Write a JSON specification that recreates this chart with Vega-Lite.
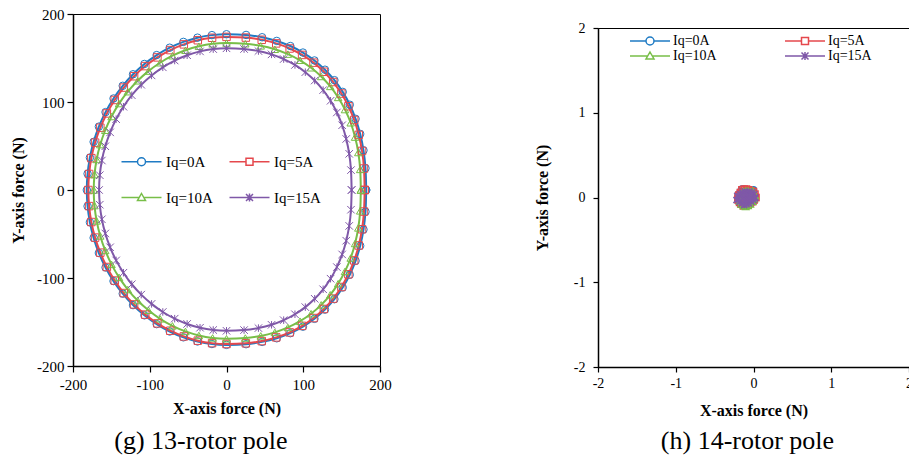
{
"$schema": "https://vega.github.io/schema/vega-lite/v6.json",
"padding": {"left": 10, "top": 6, "right": 0, "bottom": 0},
"datasets": {
"g": [
{"s":"Iq=0A","i":0,"x":182,"y":0},{"s":"Iq=0A","i":1,"x":181.1,"y":24.8},{"s":"Iq=0A","i":2,"x":178.5,"y":45.1},{"s":"Iq=0A","i":3,"x":174.2,"y":63.7},{"s":"Iq=0A","i":4,"x":168.2,"y":80.9},{"s":"Iq=0A","i":5,"x":160.6,"y":96.9},{"s":"Iq=0A","i":6,"x":151.4,"y":111.5},{"s":"Iq=0A","i":7,"x":140.6,"y":124.8},{"s":"Iq=0A","i":8,"x":128.3,"y":136.7},{"s":"Iq=0A","i":9,"x":114.6,"y":147.2},{"s":"Iq=0A","i":10,"x":99.6,"y":156.2},{"s":"Iq=0A","i":11,"x":83.2,"y":163.6},{"s":"Iq=0A","i":12,"x":65.5,"y":169.4},{"s":"Iq=0A","i":13,"x":46.4,"y":173.6},{"s":"Iq=0A","i":14,"x":25.5,"y":176.2},{"s":"Iq=0A","i":15,"x":0,"y":177},{"s":"Iq=0A","i":16,"x":-19,"y":176},{"s":"Iq=0A","i":17,"x":-37.8,"y":173.1},{"s":"Iq=0A","i":18,"x":-56.2,"y":168.3},{"s":"Iq=0A","i":19,"x":-74,"y":161.7},{"s":"Iq=0A","i":20,"x":-91,"y":153.3},{"s":"Iq=0A","i":21,"x":-107,"y":143.2},{"s":"Iq=0A","i":22,"x":-121.8,"y":131.5},{"s":"Iq=0A","i":23,"x":-135.2,"y":118.4},{"s":"Iq=0A","i":24,"x":-147.2,"y":104},{"s":"Iq=0A","i":25,"x":-157.6,"y":88.5},{"s":"Iq=0A","i":26,"x":-166.3,"y":72},{"s":"Iq=0A","i":27,"x":-173.1,"y":54.7},{"s":"Iq=0A","i":28,"x":-178,"y":36.8},{"s":"Iq=0A","i":29,"x":-181,"y":18.5},{"s":"Iq=0A","i":30,"x":-182,"y":0},{"s":"Iq=0A","i":31,"x":-181,"y":-18.4},{"s":"Iq=0A","i":32,"x":-178,"y":-36.6},{"s":"Iq=0A","i":33,"x":-173.1,"y":-54.4},{"s":"Iq=0A","i":34,"x":-166.3,"y":-71.6},{"s":"Iq=0A","i":35,"x":-157.6,"y":-88},{"s":"Iq=0A","i":36,"x":-147.2,"y":-103.5},{"s":"Iq=0A","i":37,"x":-135.2,"y":-117.8},{"s":"Iq=0A","i":38,"x":-121.8,"y":-130.8},{"s":"Iq=0A","i":39,"x":-107,"y":-142.4},{"s":"Iq=0A","i":40,"x":-91,"y":-152.4},{"s":"Iq=0A","i":41,"x":-74,"y":-160.8},{"s":"Iq=0A","i":42,"x":-56.2,"y":-167.4},{"s":"Iq=0A","i":43,"x":-37.8,"y":-172.1},{"s":"Iq=0A","i":44,"x":-19,"y":-175},{"s":"Iq=0A","i":45,"x":0,"y":-176},{"s":"Iq=0A","i":46,"x":25.5,"y":-175.2},{"s":"Iq=0A","i":47,"x":46.4,"y":-172.6},{"s":"Iq=0A","i":48,"x":65.5,"y":-168.5},{"s":"Iq=0A","i":49,"x":83.2,"y":-162.7},{"s":"Iq=0A","i":50,"x":99.6,"y":-155.3},{"s":"Iq=0A","i":51,"x":114.6,"y":-146.4},{"s":"Iq=0A","i":52,"x":128.3,"y":-135.9},{"s":"Iq=0A","i":53,"x":140.6,"y":-124.1},{"s":"Iq=0A","i":54,"x":151.4,"y":-110.8},{"s":"Iq=0A","i":55,"x":160.6,"y":-96.3},{"s":"Iq=0A","i":56,"x":168.2,"y":-80.5},{"s":"Iq=0A","i":57,"x":174.2,"y":-63.4},{"s":"Iq=0A","i":58,"x":178.5,"y":-44.9},{"s":"Iq=0A","i":59,"x":181.1,"y":-24.7},{"s":"Iq=0A","i":60,"x":182,"y":0},
{"s":"Iq=5A","i":0,"x":180,"y":0},{"s":"Iq=5A","i":1,"x":179.1,"y":24.4},{"s":"Iq=5A","i":2,"x":176.6,"y":44.4},{"s":"Iq=5A","i":3,"x":172.3,"y":62.6},{"s":"Iq=5A","i":4,"x":166.4,"y":79.6},{"s":"Iq=5A","i":5,"x":158.8,"y":95.2},{"s":"Iq=5A","i":6,"x":149.7,"y":109.6},{"s":"Iq=5A","i":7,"x":139,"y":122.7},{"s":"Iq=5A","i":8,"x":126.9,"y":134.4},{"s":"Iq=5A","i":9,"x":113.4,"y":144.7},{"s":"Iq=5A","i":10,"x":98.5,"y":153.5},{"s":"Iq=5A","i":11,"x":82.3,"y":160.8},{"s":"Iq=5A","i":12,"x":64.8,"y":166.6},{"s":"Iq=5A","i":13,"x":45.9,"y":170.7},{"s":"Iq=5A","i":14,"x":25.2,"y":173.2},{"s":"Iq=5A","i":15,"x":0,"y":174},{"s":"Iq=5A","i":16,"x":-18.8,"y":173},{"s":"Iq=5A","i":17,"x":-37.4,"y":170.2},{"s":"Iq=5A","i":18,"x":-55.6,"y":165.5},{"s":"Iq=5A","i":19,"x":-73.2,"y":159},{"s":"Iq=5A","i":20,"x":-90,"y":150.7},{"s":"Iq=5A","i":21,"x":-105.8,"y":140.8},{"s":"Iq=5A","i":22,"x":-120.4,"y":129.3},{"s":"Iq=5A","i":23,"x":-133.8,"y":116.4},{"s":"Iq=5A","i":24,"x":-145.6,"y":102.3},{"s":"Iq=5A","i":25,"x":-155.9,"y":87},{"s":"Iq=5A","i":26,"x":-164.4,"y":70.8},{"s":"Iq=5A","i":27,"x":-171.2,"y":53.8},{"s":"Iq=5A","i":28,"x":-176.1,"y":36.2},{"s":"Iq=5A","i":29,"x":-179,"y":18.2},{"s":"Iq=5A","i":30,"x":-180,"y":0},{"s":"Iq=5A","i":31,"x":-179,"y":-18.3},{"s":"Iq=5A","i":32,"x":-176.1,"y":-36.4},{"s":"Iq=5A","i":33,"x":-171.2,"y":-54.1},{"s":"Iq=5A","i":34,"x":-164.4,"y":-71.2},{"s":"Iq=5A","i":35,"x":-155.9,"y":-87.5},{"s":"Iq=5A","i":36,"x":-145.6,"y":-102.9},{"s":"Iq=5A","i":37,"x":-133.8,"y":-117.1},{"s":"Iq=5A","i":38,"x":-120.4,"y":-130},{"s":"Iq=5A","i":39,"x":-105.8,"y":-141.6},{"s":"Iq=5A","i":40,"x":-90,"y":-151.6},{"s":"Iq=5A","i":41,"x":-73.2,"y":-159.9},{"s":"Iq=5A","i":42,"x":-55.6,"y":-166.4},{"s":"Iq=5A","i":43,"x":-37.4,"y":-171.2},{"s":"Iq=5A","i":44,"x":-18.8,"y":-174},{"s":"Iq=5A","i":45,"x":0,"y":-175},{"s":"Iq=5A","i":46,"x":25.2,"y":-174.2},{"s":"Iq=5A","i":47,"x":45.9,"y":-171.7},{"s":"Iq=5A","i":48,"x":64.8,"y":-167.5},{"s":"Iq=5A","i":49,"x":82.3,"y":-161.8},{"s":"Iq=5A","i":50,"x":98.5,"y":-154.4},{"s":"Iq=5A","i":51,"x":113.4,"y":-145.5},{"s":"Iq=5A","i":52,"x":126.9,"y":-135.2},{"s":"Iq=5A","i":53,"x":139,"y":-123.4},{"s":"Iq=5A","i":54,"x":149.7,"y":-110.2},{"s":"Iq=5A","i":55,"x":158.8,"y":-95.8},{"s":"Iq=5A","i":56,"x":166.4,"y":-80},{"s":"Iq=5A","i":57,"x":172.3,"y":-63},{"s":"Iq=5A","i":58,"x":176.6,"y":-44.6},{"s":"Iq=5A","i":59,"x":179.1,"y":-24.5},{"s":"Iq=5A","i":60,"x":180,"y":0},
{"s":"Iq=10A","i":0,"x":175,"y":0},{"s":"Iq=10A","i":1,"x":174.2,"y":23.4},{"s":"Iq=10A","i":2,"x":171.7,"y":42.6},{"s":"Iq=10A","i":3,"x":167.5,"y":60.1},{"s":"Iq=10A","i":4,"x":161.8,"y":76.4},{"s":"Iq=10A","i":5,"x":154.4,"y":91.4},{"s":"Iq=10A","i":6,"x":145.5,"y":105.2},{"s":"Iq=10A","i":7,"x":135.2,"y":117.7},{"s":"Iq=10A","i":8,"x":123.4,"y":129},{"s":"Iq=10A","i":9,"x":110.2,"y":138.9},{"s":"Iq=10A","i":10,"x":95.8,"y":147.4},{"s":"Iq=10A","i":11,"x":80,"y":154.4},{"s":"Iq=10A","i":12,"x":63,"y":159.9},{"s":"Iq=10A","i":13,"x":44.6,"y":163.8},{"s":"Iq=10A","i":14,"x":24.5,"y":166.2},{"s":"Iq=10A","i":15,"x":0,"y":167},{"s":"Iq=10A","i":16,"x":-18.1,"y":166.1},{"s":"Iq=10A","i":17,"x":-36,"y":163.3},{"s":"Iq=10A","i":18,"x":-53.5,"y":158.8},{"s":"Iq=10A","i":19,"x":-70.4,"y":152.6},{"s":"Iq=10A","i":20,"x":-86.5,"y":144.6},{"s":"Iq=10A","i":21,"x":-101.7,"y":135.1},{"s":"Iq=10A","i":22,"x":-115.8,"y":124.1},{"s":"Iq=10A","i":23,"x":-128.6,"y":111.7},{"s":"Iq=10A","i":24,"x":-140,"y":98.2},{"s":"Iq=10A","i":25,"x":-149.8,"y":83.5},{"s":"Iq=10A","i":26,"x":-158,"y":67.9},{"s":"Iq=10A","i":27,"x":-164.5,"y":51.6},{"s":"Iq=10A","i":28,"x":-169.2,"y":34.7},{"s":"Iq=10A","i":29,"x":-172,"y":17.5},{"s":"Iq=10A","i":30,"x":-173,"y":0},{"s":"Iq=10A","i":31,"x":-172,"y":-17.7},{"s":"Iq=10A","i":32,"x":-169.2,"y":-35.1},{"s":"Iq=10A","i":33,"x":-164.5,"y":-52.2},{"s":"Iq=10A","i":34,"x":-158,"y":-68.7},{"s":"Iq=10A","i":35,"x":-149.8,"y":-84.5},{"s":"Iq=10A","i":36,"x":-140,"y":-99.3},{"s":"Iq=10A","i":37,"x":-128.6,"y":-113.1},{"s":"Iq=10A","i":38,"x":-115.8,"y":-125.6},{"s":"Iq=10A","i":39,"x":-101.7,"y":-136.7},{"s":"Iq=10A","i":40,"x":-86.5,"y":-146.4},{"s":"Iq=10A","i":41,"x":-70.4,"y":-154.4},{"s":"Iq=10A","i":42,"x":-53.5,"y":-160.7},{"s":"Iq=10A","i":43,"x":-36,"y":-165.3},{"s":"Iq=10A","i":44,"x":-18.1,"y":-168.1},{"s":"Iq=10A","i":45,"x":0,"y":-169},{"s":"Iq=10A","i":46,"x":24.5,"y":-168.2},{"s":"Iq=10A","i":47,"x":44.6,"y":-165.8},{"s":"Iq=10A","i":48,"x":63,"y":-161.8},{"s":"Iq=10A","i":49,"x":80,"y":-156.2},{"s":"Iq=10A","i":50,"x":95.8,"y":-149.1},{"s":"Iq=10A","i":51,"x":110.2,"y":-140.6},{"s":"Iq=10A","i":52,"x":123.4,"y":-130.5},{"s":"Iq=10A","i":53,"x":135.2,"y":-119.1},{"s":"Iq=10A","i":54,"x":145.5,"y":-106.4},{"s":"Iq=10A","i":55,"x":154.4,"y":-92.5},{"s":"Iq=10A","i":56,"x":161.8,"y":-77.3},{"s":"Iq=10A","i":57,"x":167.5,"y":-60.8},{"s":"Iq=10A","i":58,"x":171.7,"y":-43.1},{"s":"Iq=10A","i":59,"x":174.2,"y":-23.7},{"s":"Iq=10A","i":60,"x":175,"y":0},
{"s":"Iq=15A","i":0,"x":163,"y":0},{"s":"Iq=15A","i":1,"x":162.2,"y":22.6},{"s":"Iq=15A","i":2,"x":159.9,"y":41.1},{"s":"Iq=15A","i":3,"x":156,"y":58},{"s":"Iq=15A","i":4,"x":150.7,"y":73.6},{"s":"Iq=15A","i":5,"x":143.8,"y":88.1},{"s":"Iq=15A","i":6,"x":135.6,"y":101.4},{"s":"Iq=15A","i":7,"x":125.9,"y":113.5},{"s":"Iq=15A","i":8,"x":114.9,"y":124.4},{"s":"Iq=15A","i":9,"x":102.7,"y":133.9},{"s":"Iq=15A","i":10,"x":89.2,"y":142.1},{"s":"Iq=15A","i":11,"x":74.5,"y":148.8},{"s":"Iq=15A","i":12,"x":58.7,"y":154.1},{"s":"Iq=15A","i":13,"x":41.6,"y":157.9},{"s":"Iq=15A","i":14,"x":22.9,"y":160.2},{"s":"Iq=15A","i":15,"x":0,"y":161},{"s":"Iq=15A","i":16,"x":-17.3,"y":160.1},{"s":"Iq=15A","i":17,"x":-34.5,"y":157.5},{"s":"Iq=15A","i":18,"x":-51.3,"y":153.1},{"s":"Iq=15A","i":19,"x":-67.5,"y":147.1},{"s":"Iq=15A","i":20,"x":-83,"y":139.4},{"s":"Iq=15A","i":21,"x":-97.6,"y":130.2},{"s":"Iq=15A","i":22,"x":-111.1,"y":119.6},{"s":"Iq=15A","i":23,"x":-123.4,"y":107.7},{"s":"Iq=15A","i":24,"x":-134.3,"y":94.6},{"s":"Iq=15A","i":25,"x":-143.8,"y":80.5},{"s":"Iq=15A","i":26,"x":-151.6,"y":65.5},{"s":"Iq=15A","i":27,"x":-157.9,"y":49.7},{"s":"Iq=15A","i":28,"x":-162.4,"y":33.5},{"s":"Iq=15A","i":29,"x":-165.1,"y":16.8},{"s":"Iq=15A","i":30,"x":-166,"y":0},{"s":"Iq=15A","i":31,"x":-165.1,"y":-16.7},{"s":"Iq=15A","i":32,"x":-162.4,"y":-33.3},{"s":"Iq=15A","i":33,"x":-157.9,"y":-49.4},{"s":"Iq=15A","i":34,"x":-151.6,"y":-65.1},{"s":"Iq=15A","i":35,"x":-143.8,"y":-80},{"s":"Iq=15A","i":36,"x":-134.3,"y":-94},{"s":"Iq=15A","i":37,"x":-123.4,"y":-107.1},{"s":"Iq=15A","i":38,"x":-111.1,"y":-118.9},{"s":"Iq=15A","i":39,"x":-97.6,"y":-129.4},{"s":"Iq=15A","i":40,"x":-83,"y":-138.6},{"s":"Iq=15A","i":41,"x":-67.5,"y":-146.2},{"s":"Iq=15A","i":42,"x":-51.3,"y":-152.2},{"s":"Iq=15A","i":43,"x":-34.5,"y":-156.5},{"s":"Iq=15A","i":44,"x":-17.3,"y":-159.1},{"s":"Iq=15A","i":45,"x":0,"y":-160},{"s":"Iq=15A","i":46,"x":22.9,"y":-159.2},{"s":"Iq=15A","i":47,"x":41.6,"y":-156.9},{"s":"Iq=15A","i":48,"x":58.7,"y":-153.2},{"s":"Iq=15A","i":49,"x":74.5,"y":-147.9},{"s":"Iq=15A","i":50,"x":89.2,"y":-141.2},{"s":"Iq=15A","i":51,"x":102.7,"y":-133.1},{"s":"Iq=15A","i":52,"x":114.9,"y":-123.6},{"s":"Iq=15A","i":53,"x":125.9,"y":-112.8},{"s":"Iq=15A","i":54,"x":135.6,"y":-100.8},{"s":"Iq=15A","i":55,"x":143.8,"y":-87.6},{"s":"Iq=15A","i":56,"x":150.7,"y":-73.2},{"s":"Iq=15A","i":57,"x":156,"y":-57.6},{"s":"Iq=15A","i":58,"x":159.9,"y":-40.8},{"s":"Iq=15A","i":59,"x":162.2,"y":-22.4},{"s":"Iq=15A","i":60,"x":163,"y":0}
],
"h": [
{"s":"Iq=0A","i":0,"x":0.02,"y":0},{"s":"Iq=0A","i":1,"x":0.01,"y":0.03},{"s":"Iq=0A","i":2,"x":0,"y":0.06},{"s":"Iq=0A","i":3,"x":0,"y":0.09},{"s":"Iq=0A","i":4,"x":-0.03,"y":0.08},{"s":"Iq=0A","i":5,"x":-0.06,"y":0.08},{"s":"Iq=0A","i":6,"x":-0.09,"y":0.09},{"s":"Iq=0A","i":7,"x":-0.12,"y":0.1},{"s":"Iq=0A","i":8,"x":-0.15,"y":0.1},{"s":"Iq=0A","i":9,"x":-0.17,"y":0.07},{"s":"Iq=0A","i":10,"x":-0.19,"y":0.04},{"s":"Iq=0A","i":11,"x":-0.2,"y":0.01},{"s":"Iq=0A","i":12,"x":-0.2,"y":-0.02},{"s":"Iq=0A","i":13,"x":-0.19,"y":-0.05},{"s":"Iq=0A","i":14,"x":-0.17,"y":-0.08},{"s":"Iq=0A","i":15,"x":-0.14,"y":-0.09},{"s":"Iq=0A","i":16,"x":-0.11,"y":-0.1},{"s":"Iq=0A","i":17,"x":-0.08,"y":-0.09},{"s":"Iq=0A","i":18,"x":-0.05,"y":-0.08},{"s":"Iq=0A","i":19,"x":-0.02,"y":-0.06},{"s":"Iq=0A","i":20,"x":0,"y":-0.04},{"s":"Iq=0A","i":21,"x":0.01,"y":-0.02},{"s":"Iq=0A","i":22,"x":0.02,"y":0},
{"s":"Iq=5A","i":0,"x":0.03,"y":0},{"s":"Iq=5A","i":1,"x":0.02,"y":0.04},{"s":"Iq=5A","i":2,"x":0,"y":0.07},{"s":"Iq=5A","i":3,"x":-0.03,"y":0.08},{"s":"Iq=5A","i":4,"x":-0.06,"y":0.09},{"s":"Iq=5A","i":5,"x":-0.09,"y":0.1},{"s":"Iq=5A","i":6,"x":-0.12,"y":0.1},{"s":"Iq=5A","i":7,"x":-0.15,"y":0.09},{"s":"Iq=5A","i":8,"x":-0.17,"y":0.06},{"s":"Iq=5A","i":9,"x":-0.19,"y":0.03},{"s":"Iq=5A","i":10,"x":-0.2,"y":0},{"s":"Iq=5A","i":11,"x":-0.2,"y":-0.03},{"s":"Iq=5A","i":12,"x":-0.18,"y":-0.06},{"s":"Iq=5A","i":13,"x":-0.16,"y":-0.08},{"s":"Iq=5A","i":14,"x":-0.13,"y":-0.1},{"s":"Iq=5A","i":15,"x":-0.1,"y":-0.1},{"s":"Iq=5A","i":16,"x":-0.07,"y":-0.09},{"s":"Iq=5A","i":17,"x":-0.04,"y":-0.07},{"s":"Iq=5A","i":18,"x":-0.01,"y":-0.05},{"s":"Iq=5A","i":19,"x":0.01,"y":-0.03},{"s":"Iq=5A","i":20,"x":0.03,"y":0},
{"s":"Iq=10A","i":0,"x":0.02,"y":0.02},{"s":"Iq=10A","i":1,"x":0,"y":0.05},{"s":"Iq=10A","i":2,"x":-0.01,"y":0.08},{"s":"Iq=10A","i":3,"x":-0.04,"y":0.07},{"s":"Iq=10A","i":4,"x":-0.07,"y":0.08},{"s":"Iq=10A","i":5,"x":-0.1,"y":0.08},{"s":"Iq=10A","i":6,"x":-0.13,"y":0.07},{"s":"Iq=10A","i":7,"x":-0.16,"y":0.05},{"s":"Iq=10A","i":8,"x":-0.18,"y":0.02},{"s":"Iq=10A","i":9,"x":-0.19,"y":-0.01},{"s":"Iq=10A","i":10,"x":-0.18,"y":-0.05},{"s":"Iq=10A","i":11,"x":-0.16,"y":-0.08},{"s":"Iq=10A","i":12,"x":-0.13,"y":-0.1},{"s":"Iq=10A","i":13,"x":-0.1,"y":-0.11},{"s":"Iq=10A","i":14,"x":-0.07,"y":-0.1},{"s":"Iq=10A","i":15,"x":-0.04,"y":-0.08},{"s":"Iq=10A","i":16,"x":-0.01,"y":-0.05},{"s":"Iq=10A","i":17,"x":0.01,"y":-0.02},{"s":"Iq=10A","i":18,"x":0.02,"y":0.02},
{"s":"Iq=15A","i":0,"x":0.02,"y":0},{"s":"Iq=15A","i":1,"x":0.01,"y":0.04},{"s":"Iq=15A","i":2,"x":-0.02,"y":0.06},{"s":"Iq=15A","i":3,"x":-0.05,"y":0.07},{"s":"Iq=15A","i":4,"x":-0.08,"y":0.06},{"s":"Iq=15A","i":5,"x":-0.11,"y":0.07},{"s":"Iq=15A","i":6,"x":-0.14,"y":0.06},{"s":"Iq=15A","i":7,"x":-0.17,"y":0.04},{"s":"Iq=15A","i":8,"x":-0.21,"y":0.02},{"s":"Iq=15A","i":9,"x":-0.19,"y":-0.01},{"s":"Iq=15A","i":10,"x":-0.22,"y":-0.03},{"s":"Iq=15A","i":11,"x":-0.18,"y":-0.05},{"s":"Iq=15A","i":12,"x":-0.15,"y":-0.07},{"s":"Iq=15A","i":13,"x":-0.12,"y":-0.09},{"s":"Iq=15A","i":14,"x":-0.09,"y":-0.08},{"s":"Iq=15A","i":15,"x":-0.06,"y":-0.07},{"s":"Iq=15A","i":16,"x":-0.03,"y":-0.05},{"s":"Iq=15A","i":17,"x":0,"y":-0.03},{"s":"Iq=15A","i":18,"x":0.02,"y":-0.01},{"s":"Iq=15A","i":19,"x":-0.04,"y":0.02},{"s":"Iq=15A","i":20,"x":-0.08,"y":0.01},{"s":"Iq=15A","i":21,"x":-0.12,"y":0.02},{"s":"Iq=15A","i":22,"x":-0.15,"y":-0.01},{"s":"Iq=15A","i":23,"x":-0.11,"y":-0.03},{"s":"Iq=15A","i":24,"x":-0.07,"y":-0.03},{"s":"Iq=15A","i":25,"x":-0.04,"y":-0.02},{"s":"Iq=15A","i":26,"x":0.02,"y":0}
]
},
"spacing": 141,
"resolve": {"scale": {"color": "independent", "shape": "independent", "x": "independent", "y": "independent"}},
"hconcat": [
{
"width": 307, "height": 352,
"data": {"name": "g"},
"title": {"text": "(g) 13-rotor pole", "orient": "bottom", "frame": "bounds", "anchor": "middle", "offset": 12},
"encoding": {
"x": {"field": "x", "type": "quantitative", "scale": {"domain": [-200, 200], "nice": false, "zero": false}, "axis": {"title": "X-axis force (N)", "values": [-200, -100, 0, 100, 200], "labelPadding": 5, "titlePadding": 8, "labelExpr": "replace(datum.label, '\u2212', '-')"}},
"y": {"field": "y", "type": "quantitative", "scale": {"domain": [-200, 200], "nice": false, "zero": false}, "axis": {"title": "Y-axis force (N)", "values": [-200, -100, 0, 100, 200], "labelPadding": 3, "titlePadding": 10, "labelExpr": "replace(datum.label, '\u2212', '-')"}}
},
"layer": [
{"mark": {"type": "line", "strokeWidth": 2, "interpolate": "cardinal"},
 "encoding": {"color": {"field": "s", "type": "nominal", "scale": {"domain": ["Iq=0A", "Iq=5A", "Iq=10A", "Iq=15A"], "range": ["#1F7BC4", "#E5484D", "#78BE48", "#7F58A8"]}, "legend": null}, "order": {"field": "i", "type": "quantitative"}}},
{"mark": {"type": "point", "filled": false, "size": 56, "strokeWidth": 1, "opacity": 1},
 "encoding": {"color": {"field": "s", "type": "nominal", "scale": {"domain": ["Iq=0A", "Iq=5A", "Iq=10A", "Iq=15A"], "range": ["#1F7BC4", "#E5484D", "#78BE48", "#7F58A8"]}, "legend": null},
  "shape": {"field": "s", "type": "nominal", "scale": {"domain": ["Iq=0A", "Iq=5A", "Iq=10A", "Iq=15A"], "range": ["circle", "square", "triangle-up", "M-1,-1L1,1M-1,1L1,-1M0,-1V1"]}, "legend": null}}},
{"mark": {"type": "point", "filled": false, "size": 90, "strokeWidth": 1.5, "opacity": 0},
 "encoding": {"color": {"field": "s", "type": "nominal", "scale": {"domain": ["Iq=0A", "Iq=5A", "Iq=10A", "Iq=15A"], "range": ["#1F7BC4", "#E5484D", "#78BE48", "#7F58A8"]},
   "legend": {"orient": "none", "legendX": 47, "legendY": 140, "columns": 2, "direction": "horizontal", "title": null, "labelFontSize": 15, "symbolOpacity": 1, "symbolStrokeWidth": 1.5, "symbolOffset": 14, "labelOffset": 17, "columnPadding": 13, "rowPadding": 20, "padding": 0}},
  "shape": {"field": "s", "type": "nominal", "scale": {"domain": ["Iq=0A", "Iq=5A", "Iq=10A", "Iq=15A"], "range": ["M-4,0H-0.8M0.8,0H4M-0.8,0A0.8,0.8 0 1,0 0.8,0A0.8,0.8 0 1,0 -0.8,0", "M-4,0H-0.7M0.7,0H4M-0.7,-0.7H0.7V0.7H-0.7Z", "M-4,0H-0.45M0.45,0H4M0,-0.8L0.8,0.6H-0.8Z", "M-4,0H4M-0.7,-0.7L0.7,0.7M-0.7,0.7L0.7,-0.7M0,-0.8V0.8"]},
   "legend": {"orient": "none", "legendX": 47, "legendY": 140, "columns": 2, "direction": "horizontal", "title": null, "labelFontSize": 15, "symbolOpacity": 1, "symbolStrokeWidth": 1.5, "symbolOffset": 14, "labelOffset": 17, "columnPadding": 13, "rowPadding": 20, "padding": 0}}}}
],
"resolve": {"scale": {"shape": "independent", "color": "independent"}}
},
{
"spacing": 1,
"vconcat": [
{"width": 1, "height": 4, "data": {"values": [{"a": 1}]}, "mark": {"type": "point", "opacity": 0}, "encoding": {}, "view": {"stroke": null}},
{
"width": 311, "height": 339,
"data": {"name": "h"},
"title": {"text": "(h) 14-rotor pole", "orient": "bottom", "frame": "group", "anchor": "middle", "offset": 10, "dx": -6},
"encoding": {
"x": {"field": "x", "type": "quantitative", "scale": {"domain": [-2, 2], "nice": false, "zero": false}, "axis": {"title": "X-axis force (N)", "values": [-2, -1, 0, 1, 2], "labelPadding": 4, "titlePadding": 12, "labelFontSize": 14, "tickSize": 5, "labelExpr": "replace(datum.label, '\u2212', '-')"}},
"y": {"field": "y", "type": "quantitative", "scale": {"domain": [-2, 2], "nice": false, "zero": false}, "axis": {"title": "Y-axis force (N)", "values": [-2, -1, 0, 1, 2], "labelPadding": 8, "titlePadding": 23, "labelFontSize": 14, "tickSize": 5, "labelExpr": "replace(datum.label, '\u2212', '-')"}}
},
"layer": [
{"mark": {"type": "line", "strokeWidth": 2, "interpolate": "linear"},
 "encoding": {"color": {"field": "s", "type": "nominal", "scale": {"domain": ["Iq=0A", "Iq=5A", "Iq=10A", "Iq=15A"], "range": ["#1F7BC4", "#E5484D", "#78BE48", "#7F58A8"]}, "legend": null}, "order": {"field": "i", "type": "quantitative"}}},
{"mark": {"type": "point", "filled": false, "size": 36, "strokeWidth": 1.5, "opacity": 1},
 "encoding": {"color": {"field": "s", "type": "nominal", "scale": {"domain": ["Iq=0A", "Iq=5A", "Iq=10A", "Iq=15A"], "range": ["#1F7BC4", "#E5484D", "#78BE48", "#7F58A8"]}, "legend": null},
  "shape": {"field": "s", "type": "nominal", "scale": {"domain": ["Iq=0A", "Iq=5A", "Iq=10A", "Iq=15A"], "range": ["circle", "square", "triangle-up", "M-1,-1L1,1M-1,1L1,-1M0,-1V1"]}, "legend": null}}},
{"mark": {"type": "point", "filled": false, "size": 90, "strokeWidth": 1.5, "opacity": 0},
 "encoding": {"color": {"field": "s", "type": "nominal", "scale": {"domain": ["Iq=0A", "Iq=5A", "Iq=10A", "Iq=15A"], "range": ["#1F7BC4", "#E5484D", "#78BE48", "#7F58A8"]},
   "legend": {"orient": "none", "legendX": 31, "legendY": 6, "columns": 2, "direction": "horizontal", "title": null, "labelFontSize": 14, "symbolOpacity": 1, "symbolStrokeWidth": 1.5, "symbolOffset": 14, "labelOffset": 16, "columnPadding": 65, "rowPadding": 1, "padding": 0}},
  "shape": {"field": "s", "type": "nominal", "scale": {"domain": ["Iq=0A", "Iq=5A", "Iq=10A", "Iq=15A"], "range": ["M-4,0H-0.8M0.8,0H4M-0.8,0A0.8,0.8 0 1,0 0.8,0A0.8,0.8 0 1,0 -0.8,0", "M-4,0H-0.7M0.7,0H4M-0.7,-0.7H0.7V0.7H-0.7Z", "M-4,0H-0.45M0.45,0H4M0,-0.8L0.8,0.6H-0.8Z", "M-4,0H4M-0.7,-0.7L0.7,0.7M-0.7,0.7L0.7,-0.7M0,-0.8V0.8"]},
   "legend": {"orient": "none", "legendX": 31, "legendY": 6, "columns": 2, "direction": "horizontal", "title": null, "labelFontSize": 14, "symbolOpacity": 1, "symbolStrokeWidth": 1.5, "symbolOffset": 14, "labelOffset": 16, "columnPadding": 65, "rowPadding": 1, "padding": 0}}}}
],
"resolve": {"scale": {"shape": "independent", "color": "independent"}}
}
]
}
],
"config": {
"font": "Liberation Serif",
"view": {"stroke": "#000000", "strokeWidth": 1},
"axis": {"labelFont": "Liberation Serif", "titleFont": "Liberation Serif", "labelFontSize": 15, "titleFontSize": 16, "titleFontWeight": "bold", "domainColor": "#000000", "domainWidth": 1.5, "tickColor": "#000000", "tickWidth": 1.2, "tickSize": 6, "labelColor": "#000000", "titleColor": "#000000", "grid": false, "labelFlush": false, "labelOverlap": false},
"legend": {"labelFont": "Liberation Serif", "labelColor": "#000000"},
"title": {"font": "Liberation Serif", "fontSize": 26, "fontWeight": "normal", "color": "#000000"}
}
}
